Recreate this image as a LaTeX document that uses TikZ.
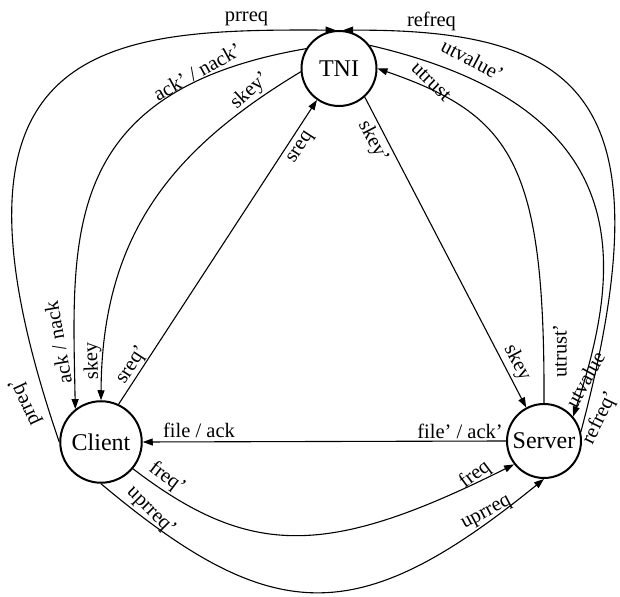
\documentclass[tikz,border=0pt]{standalone}
\usepackage{fontspec}
\setmainfont{Liberation Serif}
\usetikzlibrary{arrows.meta}

\tikzset{
  state/.style={circle,draw,line width=2pt,inner sep=0pt,font=\rmfamily\fontsize{24}{28}\selectfont},
  msg/.style={inner sep=0pt,font=\rmfamily\fontsize{20.5}{24}\selectfont},
  link/.style={->,line width=1.1pt},
}

\begin{document}
\begin{tikzpicture}[line cap=round,line join=round,>={Triangle[length=10pt,width=7pt]},x=1pt,y=1pt]
\useasboundingbox (0,0) rectangle (620,596);
\node[state,minimum size=75pt] (tni) at (339,527.5) {TNI};
\node[state,minimum size=81.5pt] (client) at (101,154) {Client};
\node[state,minimum size=74pt] (server) at (544,155) {Server};
% outer arcs into TNI
\draw[link] (client.180) .. controls (-80,560) and (110,567) .. (tni.95);
\draw[link] (server.14) .. controls (670,500) and (580,567) .. (tni.84);
% TNI <-> client
\draw[link] (tni.149) .. controls (60,505) and (72,360) .. (client.128);
\draw[link] (tni.185) .. controls (176,449) and (102,365) .. (client.90);
\draw[link] (client.65) -- (tni.235);
% TNI <-> server
\draw[link] (tni.312) -- (server.118);
\draw[link] (server.90) .. controls (545,434) and (511.5,481) .. (tni.0);
\draw[link] (tni.37) .. controls (640,488) and (623,331) .. (server.40);
% client <-> server
\draw[link] (server.180) -- (client.0);
\draw[link] (client.-40) .. controls (250,38) and (327,38) .. (server.218);
\draw[link] (client.-90) .. controls (274,-33) and (359,-33) .. (server.-90);
% labels
\node[msg] (lprreq) at (246.5,577.5) {prreq};
\node[msg,rotate=115] (lprreqs) at (25,194) {prreq'};
\node[msg] (lrefreq) at (431.5,574.5) {refreq};
\node[msg,rotate=64] (lrefreqs) at (600,178) {refreq'};
\node[msg,rotate=29] (lacks) at (197,524) {ack' / nack'};
\node[msg,rotate=100] (lack) at (58,253) {ack / nack};
\node[msg,rotate=42] (lskeyc) at (250,505) {skey'};
\node[msg,rotate=92] (lskey) at (92.5,235) {skey};
\node[msg,rotate=57] (lsreq) at (301,448) {sreq};
\node[msg,rotate=57] (lsreqs) at (132,231) {sreq'};
\node[msg,rotate=-62.6] (lskeyt) at (373,454) {skey'};
\node[msg,rotate=-62.6] (lskeys) at (517,233) {skey};
\node[msg,rotate=-44] (lutrust) at (431,514) {utrust};
\node[msg,rotate=90] (lutrusts) at (560,245) {utrust'};
\node[msg,rotate=-28] (lutvalues) at (472.5,536) {utvalue'};
\node[msg,rotate=61] (lutvalue) at (585,216) {utvalue};
\node[msg] (lfile) at (199,166) {file / ack};
\node[msg] (lfiles) at (460,165) {file' / ack'};
\node[msg,rotate=-37] (lfreqs) at (167,118) {freq'};
\node[msg,rotate=37] (lfreq) at (475,121) {freq};
\node[msg,rotate=-45] (luprreqs) at (151,85) {uprreq'};
\node[msg,rotate=28] (luprreq) at (487,82) {uprreq};
\end{tikzpicture}
\end{document}
